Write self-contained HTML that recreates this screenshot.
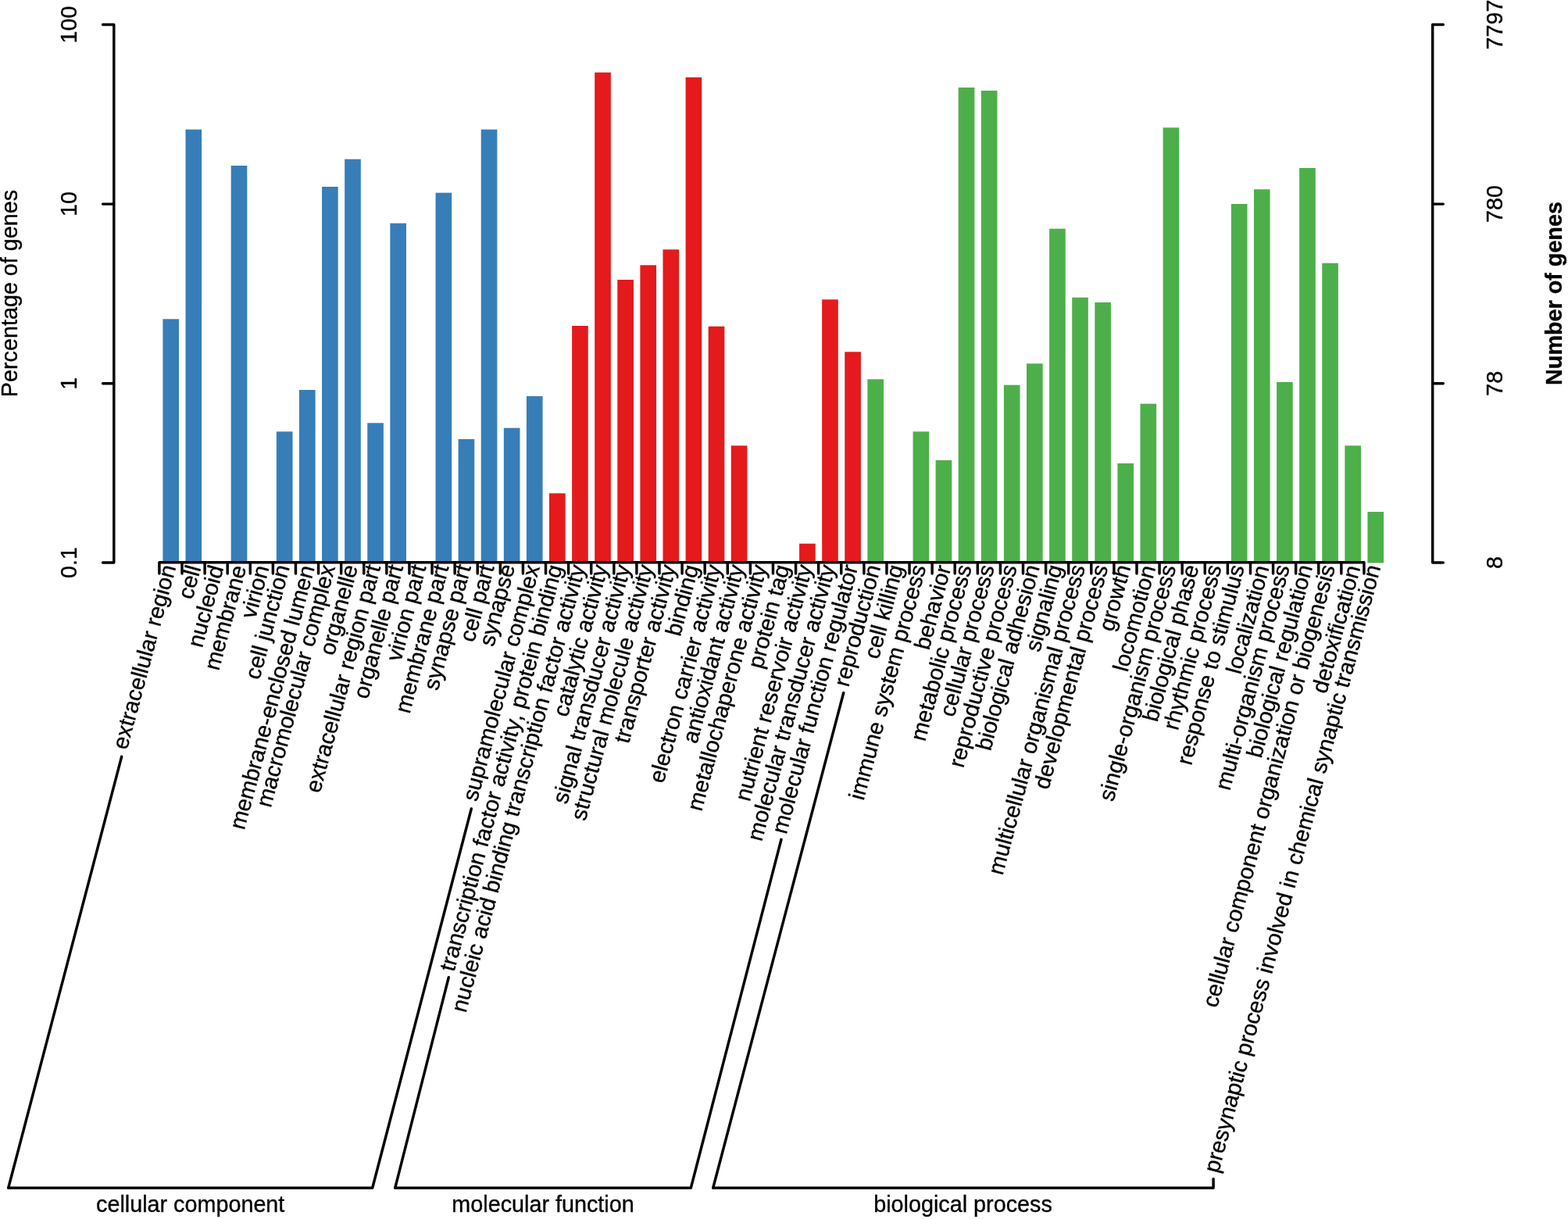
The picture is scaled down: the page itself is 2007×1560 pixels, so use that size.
<!DOCTYPE html>
<html lang="en"><head><meta charset="utf-8"><title>GO classification</title>
<style>
html,body{margin:0;padding:0;background:#fff}
body{width:2007px;height:1560px;overflow:hidden}
svg{display:block}
text{font-family:"Liberation Sans",Arial,Helvetica,sans-serif;fill:#000;font-kerning:none;font-variant-ligatures:none;stroke:#000;stroke-width:0.35px;stroke-linejoin:round}
.ax{font-size:28.75px}
.lab{font-size:28.75px;text-anchor:end}
.rl{stroke:#000;stroke-width:3.45;fill:none;stroke-linecap:round;stroke-linejoin:round}
</style></head><body>
<svg width="2007" height="1560" viewBox="0 0 2007 1560">
<rect x="0" y="0" width="2007" height="1560" fill="#ffffff"/>
<g id="bars">
<rect x="208.40" y="408.30" width="20.65" height="312.10" fill="#377EB8"/>
<rect x="237.50" y="165.70" width="20.65" height="554.70" fill="#377EB8"/>
<rect x="295.69" y="212.00" width="20.65" height="508.40" fill="#377EB8"/>
<rect x="353.88" y="552.30" width="20.65" height="168.10" fill="#377EB8"/>
<rect x="382.97" y="499.00" width="20.65" height="221.40" fill="#377EB8"/>
<rect x="412.06" y="239.00" width="20.65" height="481.40" fill="#377EB8"/>
<rect x="441.16" y="203.70" width="20.65" height="516.70" fill="#377EB8"/>
<rect x="470.25" y="541.30" width="20.65" height="179.10" fill="#377EB8"/>
<rect x="499.35" y="285.70" width="20.65" height="434.70" fill="#377EB8"/>
<rect x="557.54" y="246.70" width="20.65" height="473.70" fill="#377EB8"/>
<rect x="586.63" y="562.00" width="20.65" height="158.40" fill="#377EB8"/>
<rect x="615.73" y="165.70" width="20.65" height="554.70" fill="#377EB8"/>
<rect x="644.82" y="547.70" width="20.65" height="172.70" fill="#377EB8"/>
<rect x="673.92" y="507.00" width="20.65" height="213.40" fill="#377EB8"/>
<rect x="703.01" y="631.30" width="20.65" height="89.10" fill="#E41A1C"/>
<rect x="732.11" y="417.00" width="20.65" height="303.40" fill="#E41A1C"/>
<rect x="761.20" y="92.70" width="20.65" height="627.70" fill="#E41A1C"/>
<rect x="790.30" y="358.00" width="20.65" height="362.40" fill="#E41A1C"/>
<rect x="819.39" y="339.30" width="20.65" height="381.10" fill="#E41A1C"/>
<rect x="848.49" y="319.30" width="20.65" height="401.10" fill="#E41A1C"/>
<rect x="877.58" y="99.00" width="20.65" height="621.40" fill="#E41A1C"/>
<rect x="906.68" y="417.70" width="20.65" height="302.70" fill="#E41A1C"/>
<rect x="935.77" y="570.30" width="20.65" height="150.10" fill="#E41A1C"/>
<rect x="1023.06" y="695.70" width="20.65" height="24.70" fill="#E41A1C"/>
<rect x="1052.15" y="383.30" width="20.65" height="337.10" fill="#E41A1C"/>
<rect x="1081.25" y="450.30" width="20.65" height="270.10" fill="#E41A1C"/>
<rect x="1110.35" y="485.30" width="20.65" height="235.10" fill="#4DAF4A"/>
<rect x="1168.54" y="552.30" width="20.65" height="168.10" fill="#4DAF4A"/>
<rect x="1197.63" y="589.00" width="20.65" height="131.40" fill="#4DAF4A"/>
<rect x="1226.72" y="112.00" width="20.65" height="608.40" fill="#4DAF4A"/>
<rect x="1255.82" y="116.00" width="20.65" height="604.40" fill="#4DAF4A"/>
<rect x="1284.91" y="492.70" width="20.65" height="227.70" fill="#4DAF4A"/>
<rect x="1314.01" y="465.30" width="20.65" height="255.10" fill="#4DAF4A"/>
<rect x="1343.11" y="292.70" width="20.65" height="427.70" fill="#4DAF4A"/>
<rect x="1372.20" y="380.70" width="20.65" height="339.70" fill="#4DAF4A"/>
<rect x="1401.30" y="387.00" width="20.65" height="333.40" fill="#4DAF4A"/>
<rect x="1430.39" y="593.00" width="20.65" height="127.40" fill="#4DAF4A"/>
<rect x="1459.49" y="516.70" width="20.65" height="203.70" fill="#4DAF4A"/>
<rect x="1488.58" y="163.30" width="20.65" height="557.10" fill="#4DAF4A"/>
<rect x="1575.87" y="261.00" width="20.65" height="459.40" fill="#4DAF4A"/>
<rect x="1604.96" y="242.30" width="20.65" height="478.10" fill="#4DAF4A"/>
<rect x="1634.06" y="489.00" width="20.65" height="231.40" fill="#4DAF4A"/>
<rect x="1663.15" y="215.00" width="20.65" height="505.40" fill="#4DAF4A"/>
<rect x="1692.25" y="336.70" width="20.65" height="383.70" fill="#4DAF4A"/>
<rect x="1721.34" y="570.30" width="20.65" height="150.10" fill="#4DAF4A"/>
<rect x="1750.43" y="655.00" width="20.65" height="65.40" fill="#4DAF4A"/>
</g>
<path class="rl" style="stroke-linejoin:miter" d="M203.90 719.8 H1745.93 M203.90 719.8 v14.2 M233.00 719.8 v14.2 M262.09 719.8 v14.2 M291.19 719.8 v14.2 M320.28 719.8 v14.2 M349.38 719.8 v14.2 M378.47 719.8 v14.2 M407.56 719.8 v14.2 M436.66 719.8 v14.2 M465.75 719.8 v14.2 M494.85 719.8 v14.2 M523.94 719.8 v14.2 M553.04 719.8 v14.2 M582.13 719.8 v14.2 M611.23 719.8 v14.2 M640.32 719.8 v14.2 M669.42 719.8 v14.2 M698.51 719.8 v14.2 M727.61 719.8 v14.2 M756.70 719.8 v14.2 M785.80 719.8 v14.2 M814.89 719.8 v14.2 M843.99 719.8 v14.2 M873.08 719.8 v14.2 M902.18 719.8 v14.2 M931.27 719.8 v14.2 M960.37 719.8 v14.2 M989.46 719.8 v14.2 M1018.56 719.8 v14.2 M1047.65 719.8 v14.2 M1076.75 719.8 v14.2 M1105.85 719.8 v14.2 M1134.94 719.8 v14.2 M1164.04 719.8 v14.2 M1193.13 719.8 v14.2 M1222.22 719.8 v14.2 M1251.32 719.8 v14.2 M1280.41 719.8 v14.2 M1309.51 719.8 v14.2 M1338.61 719.8 v14.2 M1367.70 719.8 v14.2 M1396.80 719.8 v14.2 M1425.89 719.8 v14.2 M1454.99 719.8 v14.2 M1484.08 719.8 v14.2 M1513.17 719.8 v14.2 M1542.27 719.8 v14.2 M1571.37 719.8 v14.2 M1600.46 719.8 v14.2 M1629.56 719.8 v14.2 M1658.65 719.8 v14.2 M1687.75 719.8 v14.2 M1716.84 719.8 v14.2 M1745.93 719.8 v14.2"/>
<path class="rl" d="M145.8 31.5 V720.0 M145.8 31.5 h-14.2 M145.8 261.1 h-14.2 M145.8 490.7 h-14.2 M145.8 720.0 h-14.2"/>
<path class="rl" d="M1833.7 31.5 V720.0 M1833.7 31.5 h13.6 M1833.7 261.1 h13.6 M1833.7 490.7 h13.6 M1833.7 720.0 h13.6"/>
<text class="ax" text-anchor="middle" transform="translate(97.8 31.5) rotate(-90)">100</text>
<text class="ax" text-anchor="middle" transform="translate(97.8 261.1) rotate(-90)">10</text>
<text class="ax" text-anchor="middle" transform="translate(97.8 490.7) rotate(-90)">1</text>
<text class="ax" text-anchor="middle" transform="translate(97.8 720.0) rotate(-90)">0.1</text>
<text class="ax" text-anchor="middle" transform="translate(1923.4 31.5) rotate(-90)">7797</text>
<text class="ax" text-anchor="middle" transform="translate(1923.4 261.1) rotate(-90)">780</text>
<text class="ax" text-anchor="middle" transform="translate(1923.4 490.7) rotate(-90)">78</text>
<text class="ax" text-anchor="middle" transform="translate(1923.4 720.0) rotate(-90)">8</text>
<text class="ax" text-anchor="middle" transform="translate(22.0 375.5) rotate(-90)">Percentage of genes</text>
<text class="ax" font-weight="bold" text-anchor="middle" transform="translate(1999.0 375.5) rotate(-90)">Number of genes</text>
<g id="labels">
<text class="lab" transform="translate(218.42 723.95) rotate(-75.0)" y="7.16">extracellular region</text>
<text class="lab" transform="translate(247.52 723.95) rotate(-75.0)" y="10.11">cell</text>
<text class="lab" transform="translate(276.61 723.95) rotate(-75.0)" y="10.11">nucleoid</text>
<text class="lab" transform="translate(305.71 723.95) rotate(-75.0)" y="10.11">membrane</text>
<text class="lab" transform="translate(334.81 723.95) rotate(-75.0)" y="10.12">virion</text>
<text class="lab" transform="translate(363.90 723.95) rotate(-75.0)" y="7.30">cell junction</text>
<text class="lab" transform="translate(392.99 723.95) rotate(-75.0)" y="10.11">membrane-enclosed lumen</text>
<text class="lab" transform="translate(422.09 723.95) rotate(-75.0)" y="7.35">macromolecular complex</text>
<text class="lab" transform="translate(451.19 723.95) rotate(-75.0)" y="7.16">organelle</text>
<text class="lab" transform="translate(480.28 723.95) rotate(-75.0)" y="7.16">extracellular region part</text>
<text class="lab" transform="translate(509.37 723.95) rotate(-75.0)" y="7.16">organelle part</text>
<text class="lab" transform="translate(538.47 723.95) rotate(-75.0)" y="7.35">virion part</text>
<text class="lab" transform="translate(567.57 723.95) rotate(-75.0)" y="7.35">membrane part</text>
<text class="lab" transform="translate(596.66 723.95) rotate(-75.0)" y="6.54">synapse part</text>
<text class="lab" transform="translate(625.75 723.95) rotate(-75.0)" y="7.35">cell part</text>
<text class="lab" transform="translate(654.85 723.95) rotate(-75.0)" y="4.66">synapse</text>
<text class="lab" transform="translate(683.95 723.95) rotate(-75.0)" y="7.35">supramolecular complex</text>
<text class="lab" transform="translate(713.04 723.95) rotate(-75.0)" y="7.30">transcription factor activity, protein binding</text>
<text class="lab" transform="translate(742.14 723.95) rotate(-75.0)" y="7.30">nucleic acid binding transcription factor activity</text>
<text class="lab" transform="translate(771.23 723.95) rotate(-75.0)" y="7.25">catalytic activity</text>
<text class="lab" transform="translate(800.33 723.95) rotate(-75.0)" y="7.16">signal transducer activity</text>
<text class="lab" transform="translate(829.42 723.95) rotate(-75.0)" y="7.25">structural molecule activity</text>
<text class="lab" transform="translate(858.51 723.95) rotate(-75.0)" y="7.25">transporter activity</text>
<text class="lab" transform="translate(887.61 723.95) rotate(-75.0)" y="7.16">binding</text>
<text class="lab" transform="translate(916.71 723.95) rotate(-75.0)" y="7.25">electron carrier activity</text>
<text class="lab" transform="translate(945.80 723.95) rotate(-75.0)" y="7.25">antioxidant activity</text>
<text class="lab" transform="translate(974.90 723.95) rotate(-75.0)" y="7.25">metallochaperone activity</text>
<text class="lab" transform="translate(1003.99 723.95) rotate(-75.0)" y="7.16">protein tag</text>
<text class="lab" transform="translate(1033.09 723.95) rotate(-75.0)" y="7.25">nutrient reservoir activity</text>
<text class="lab" transform="translate(1062.18 723.95) rotate(-75.0)" y="7.25">molecular transducer activity</text>
<text class="lab" transform="translate(1091.27 723.95) rotate(-75.0)" y="7.30">molecular function regulator</text>
<text class="lab" transform="translate(1120.37 723.95) rotate(-75.0)" y="7.35">reproduction</text>
<text class="lab" transform="translate(1149.46 723.95) rotate(-75.0)" y="7.16">cell killing</text>
<text class="lab" transform="translate(1178.56 723.95) rotate(-75.0)" y="7.25">immune system process</text>
<text class="lab" transform="translate(1207.65 723.95) rotate(-75.0)" y="10.11">behavior</text>
<text class="lab" transform="translate(1236.75 723.95) rotate(-75.0)" y="7.35">metabolic process</text>
<text class="lab" transform="translate(1265.85 723.95) rotate(-75.0)" y="7.35">cellular process</text>
<text class="lab" transform="translate(1294.94 723.95) rotate(-75.0)" y="7.35">reproductive process</text>
<text class="lab" transform="translate(1324.03 723.95) rotate(-75.0)" y="7.16">biological adhesion</text>
<text class="lab" transform="translate(1353.13 723.95) rotate(-75.0)" y="7.16">signaling</text>
<text class="lab" transform="translate(1382.22 723.95) rotate(-75.0)" y="7.16">multicellular organismal process</text>
<text class="lab" transform="translate(1411.32 723.95) rotate(-75.0)" y="7.35">developmental process</text>
<text class="lab" transform="translate(1440.41 723.95) rotate(-75.0)" y="7.16">growth</text>
<text class="lab" transform="translate(1469.51 723.95) rotate(-75.0)" y="10.11">locomotion</text>
<text class="lab" transform="translate(1498.60 723.95) rotate(-75.0)" y="7.16">single-organism process</text>
<text class="lab" transform="translate(1527.70 723.95) rotate(-75.0)" y="7.16">biological phase</text>
<text class="lab" transform="translate(1556.79 723.95) rotate(-75.0)" y="7.25">rhythmic process</text>
<text class="lab" transform="translate(1585.89 723.95) rotate(-75.0)" y="7.35">response to stimulus</text>
<text class="lab" transform="translate(1614.98 723.95) rotate(-75.0)" y="10.11">localization</text>
<text class="lab" transform="translate(1644.08 723.95) rotate(-75.0)" y="7.16">multi-organism process</text>
<text class="lab" transform="translate(1673.17 723.95) rotate(-75.0)" y="7.16">biological regulation</text>
<text class="lab" transform="translate(1702.27 723.95) rotate(-75.0)" y="7.16">cellular component organization or biogenesis</text>
<text class="lab" transform="translate(1731.37 723.95) rotate(-75.0)" y="10.25">detoxification</text>
<text class="lab" transform="translate(1760.46 723.95) rotate(-75.0)" y="7.25">presynaptic process involved in chemical synaptic transmission</text>
</g>
<path class="rl" d="M155.7 968.3 L10.7 1520.3 H476.7 L603.3 1035.0"/>
<path class="rl" d="M574.3 1250.7 L505.7 1520.3 H884.3 L1000.0 1074.3"/>
<path class="rl" d="M1079.7 886.7 L912.7 1520.3 H1553.1 L1553.1 1508.8"/>
<text class="ax" text-anchor="middle" x="243.7" y="1550.7">cellular component</text>
<text class="ax" text-anchor="middle" x="695.0" y="1550.7">molecular function</text>
<text class="ax" text-anchor="middle" x="1232.5" y="1550.7">biological process</text>
</svg></body></html>
